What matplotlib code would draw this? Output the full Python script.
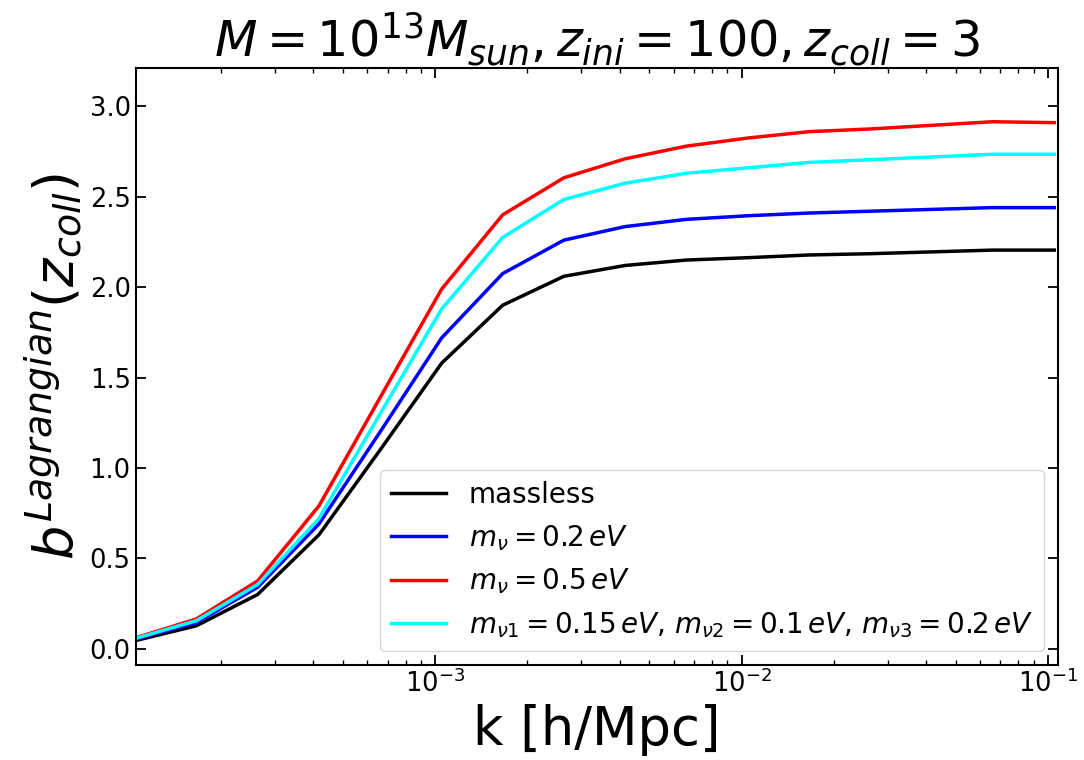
import matplotlib
matplotlib.use('Agg')
from matplotlib import pyplot as plt

# k values (h/Mpc), 0.2 dex steps
k = [1.05e-4, 1.66e-4, 2.63e-4, 4.17e-4, 6.61e-4, 1.05e-3, 1.66e-3, 2.63e-3,
     4.17e-3, 6.61e-3, 1.05e-2, 1.66e-2, 2.63e-2, 4.17e-2, 6.61e-2, 1.05e-1]

b_massless = [0.045, 0.127, 0.30, 0.63, 1.10, 1.58, 1.90, 2.06,
              2.12, 2.15, 2.163, 2.178, 2.185, 2.195, 2.205, 2.205]
b_02 = [0.053, 0.145, 0.34, 0.69, 1.20, 1.72, 2.075, 2.26,
        2.335, 2.375, 2.395, 2.41, 2.42, 2.43, 2.44, 2.44]
b_05 = [0.06, 0.165, 0.375, 0.79, 1.39, 1.99, 2.40, 2.605,
        2.71, 2.78, 2.825, 2.86, 2.875, 2.895, 2.915, 2.91]
b_mix = [0.057, 0.155, 0.355, 0.72, 1.30, 1.88, 2.275, 2.485,
         2.575, 2.63, 2.66, 2.69, 2.705, 2.72, 2.735, 2.735]

fig, ax = plt.subplots(figsize=(10.84, 7.6), dpi=100)
fig.subplots_adjust(left=0.125, right=0.976, top=0.91, bottom=0.125)

ax.plot(k, b_massless, color='black', lw=2.5, label='massless')
ax.plot(k, b_02, color='blue', lw=2.5, label=r'$m_{\nu}=0.2\,eV$')
ax.plot(k, b_05, color='red', lw=2.5, label=r'$m_{\nu}=0.5\,eV$')
ax.plot(k, b_mix, color='cyan', lw=2.5,
        label=r'$m_{\nu 1}=0.15\,eV$, $m_{\nu 2}=0.1\,eV$, $m_{\nu 3}=0.2\,eV$')

ax.set_xscale('log')
ax.set_xlim(1.05e-4, 1.08e-1)
ax.set_ylim(-0.09, 3.21)
ax.tick_params(which='both', direction='in', top=True, right=True, labelsize=18.5)
ax.tick_params(which='major', length=7, width=1.3)
ax.tick_params(which='minor', length=3.5, width=1)
for s in ax.spines.values():
    s.set_linewidth(1.5)

ax.set_xlabel('k [h/Mpc]', fontsize=38)
ax.set_ylabel(r'$b^{Lagrangian}(z_{coll})$', fontsize=39)
ax.set_title(r'$M=10^{13}M_{sun}, z_{ini}=100, z_{coll}=3$', fontsize=35.5, pad=8)
ax.legend(loc='lower right', fontsize=20)

fig.savefig('out.png', dpi=100)
